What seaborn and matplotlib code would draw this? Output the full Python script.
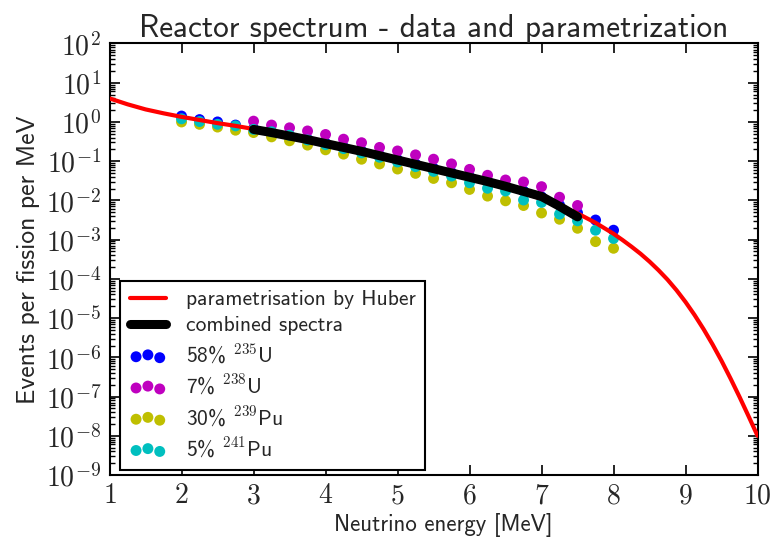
import numpy as np
import pandas as pd
import matplotlib
matplotlib.use("Agg")
import matplotlib.pyplot as plt
import seaborn as sns
from matplotlib.ticker import FuncFormatter, LogLocator, FixedLocator

# ---- data (log10 of events per fission per MeV) ----
huber_E = [1.0, 1.25, 1.5, 1.75, 2.0, 2.25, 2.5, 2.75, 3.0, 3.25, 3.5, 3.75, 4.0,
           4.25, 4.5, 4.75, 5.0, 5.25, 5.5, 5.75, 6.0, 6.25, 6.5, 6.75, 7.0, 7.25,
           7.5, 7.75, 8.0, 8.125, 8.25, 8.375, 8.5, 8.625, 8.75, 8.875, 9.0, 9.125,
           9.25, 9.375, 9.5, 9.625, 9.75, 9.875, 10.0]
huber_log = [0.60, 0.45, 0.32, 0.22, 0.13, 0.05, -0.03, -0.10, -0.18, -0.26, -0.35,
             -0.44, -0.54, -0.64, -0.74, -0.85, -0.96, -1.07, -1.19, -1.30, -1.42,
             -1.54, -1.67, -1.81, -1.96, -2.13, -2.33, -2.57, -2.85, -3.01, -3.18,
             -3.36, -3.56, -3.78, -4.02, -4.29, -4.59, -4.92, -5.28, -5.67, -6.09,
             -6.54, -7.01, -7.50, -8.00]

comb_E = [3.0, 3.25, 3.5, 3.75, 4.0, 4.25, 4.5, 4.75, 5.0, 5.25, 5.5, 5.75, 6.0,
          6.25, 6.5, 6.75, 7.0, 7.25, 7.5]
comb_log = [-0.19, -0.27, -0.36, -0.45, -0.55, -0.65, -0.75, -0.86, -0.97, -1.08,
            -1.19, -1.30, -1.41, -1.52, -1.64, -1.77, -1.90, -2.15, -2.42]

iso_E = [2.0, 2.25, 2.5, 2.75, 3.0, 3.25, 3.5, 3.75, 4.0, 4.25, 4.5, 4.75, 5.0,
         5.25, 5.5, 5.75, 6.0, 6.25, 6.5, 6.75, 7.0, 7.25, 7.5, 7.75, 8.0]
u235_log = [0.15, 0.06, 0.00, -0.08, -0.17, -0.26, -0.35, -0.44, -0.54, -0.64, -0.74,
            -0.85, -0.96, -1.07, -1.18, -1.29, -1.40, -1.51, -1.63, -1.76, -1.91,
            -2.12, -2.32, -2.50, -2.76]
u238_E = [3.0, 3.25, 3.5, 3.75, 4.0, 4.25, 4.5, 4.75, 5.0, 5.25, 5.5, 5.75, 6.0,
          6.25, 6.5, 6.75, 7.0, 7.25, 7.5]
u238_log = [0.02, -0.08, -0.15, -0.23, -0.32, -0.44, -0.53, -0.65, -0.74, -0.84,
            -0.95, -1.07, -1.21, -1.36, -1.48, -1.53, -1.65, -1.92, -2.13]
pu239_log = [0.00, -0.06, -0.13, -0.21, -0.27, -0.38, -0.48, -0.59, -0.71, -0.82,
             -0.95, -1.07, -1.20, -1.31, -1.44, -1.55, -1.72, -1.89, -2.01, -2.13,
             -2.32, -2.48, -2.71, -3.05, -3.22]
pu241_log = [0.08, 0.01, -0.06, -0.10, -0.19, -0.25, -0.34, -0.46, -0.58, -0.68,
             -0.79, -0.90, -1.02, -1.14, -1.26, -1.38, -1.55, -1.69, -1.76, -1.99,
             -2.05, -2.35, -2.52, -2.76, -2.97]

labels = ["parametrisation by Huber", "combined spectra",
          r"58% $^{\mathsf{235}}$U", r"7% $^{\mathsf{238}}$U",
          r"30% $^{\mathsf{239}}$Pu", r"5% $^{\mathsf{241}}$Pu"]
x_ticks = [1, 2, 3, 4, 5, 6, 7, 8, 9, 10]

# ---- style ----
sns.set_style("white")
plt.rcParams["font.family"] = ["cmss10", "DejaVu Sans"]
plt.rcParams["mathtext.fontset"] = "cm"
plt.rcParams["axes.unicode_minus"] = True
plt.rcParams["axes.formatter.use_mathtext"] = True

fig = plt.figure(figsize=(7.73, 5.47), dpi=100)
ax = fig.add_axes([0.1417, 0.1316, 0.98 - 0.1417, 0.9205 - 0.1316])

df_iso = pd.DataFrame({"E": iso_E,
                       "u235": np.power(10.0, u235_log),
                       "pu239": np.power(10.0, pu239_log),
                       "pu241": np.power(10.0, pu241_log)})
df_u238 = pd.DataFrame({"E": u238_E, "u238": np.power(10.0, u238_log)})
df_huber = pd.DataFrame({"E": huber_E, "y": np.power(10.0, huber_log)})
df_comb = pd.DataFrame({"E": comb_E, "y": np.power(10.0, comb_log)})

ms = 62
sns.scatterplot(data=df_iso, x="E", y="u235", ax=ax, color="b", s=ms,
                edgecolor="none", label=labels[2], zorder=3)
sns.scatterplot(data=df_u238, x="E", y="u238", ax=ax, color="m", s=ms,
                edgecolor="none", label=labels[3], zorder=3)
sns.scatterplot(data=df_iso, x="E", y="pu239", ax=ax, color="y", s=ms,
                edgecolor="none", label=labels[4], zorder=3)
sns.scatterplot(data=df_iso, x="E", y="pu241", ax=ax, color="c", s=ms,
                edgecolor="none", label=labels[5], zorder=3)
sns.lineplot(data=df_huber, x="E", y="y", ax=ax, color="r", lw=3,
             label=labels[0], zorder=4, sort=False)
sns.lineplot(data=df_comb, x="E", y="y", ax=ax, color="k", lw=6.5,
             label=labels[1], zorder=5, sort=False)

ax.set_yscale("log")
ax.set_xlim(1, 10)
ax.set_ylim(1e-9, 1e2)
ax.xaxis.set_major_locator(FixedLocator(x_ticks))
ax.xaxis.set_major_formatter(FuncFormatter(lambda v, p: r"$%d$" % round(v)))
ax.yaxis.set_major_locator(LogLocator(base=10, numticks=20))
ax.yaxis.set_minor_locator(LogLocator(base=10, subs=np.arange(2, 10), numticks=20))
ax.yaxis.set_major_formatter(FuncFormatter(lambda v, p: r"$10^{%d}$" % round(np.log10(v))))

for s in ax.spines.values():
    s.set_color("black")
    s.set_linewidth(1.5)
ax.tick_params(which="both", direction="in", top=True, right=True,
               bottom=True, left=True, color="black")
ax.tick_params(which="major", length=7, width=1.2, labelsize=20, pad=6)
ax.tick_params(which="minor", length=3.5, width=1.0)

ax.set_xlabel("Neutrino energy [MeV]", fontsize=16.5, labelpad=4)
ax.xaxis.set_label_coords(0.515, -0.088)
ax.set_ylabel("Events per fission per MeV", fontsize=18.5, labelpad=4)
ax.set_title("Reactor spectrum - data and parametrization", fontsize=22.5, pad=5)

handles, labs = ax.get_legend_handles_labels()
order = [labs.index(l) for l in labels]
leg = ax.legend([handles[i] for i in order], [labs[i] for i in order],
                loc="lower left", fontsize=15.5, scatterpoints=3, frameon=True,
                fancybox=False, framealpha=1, edgecolor="black",
                handlelength=1.7, handletextpad=0.9, borderpad=0.45,
                labelspacing=0.32, borderaxespad=0,
                bbox_to_anchor=(0.016, 0.012))
leg.get_frame().set_linewidth(1.5)

fig.savefig("out.png", dpi=100)
